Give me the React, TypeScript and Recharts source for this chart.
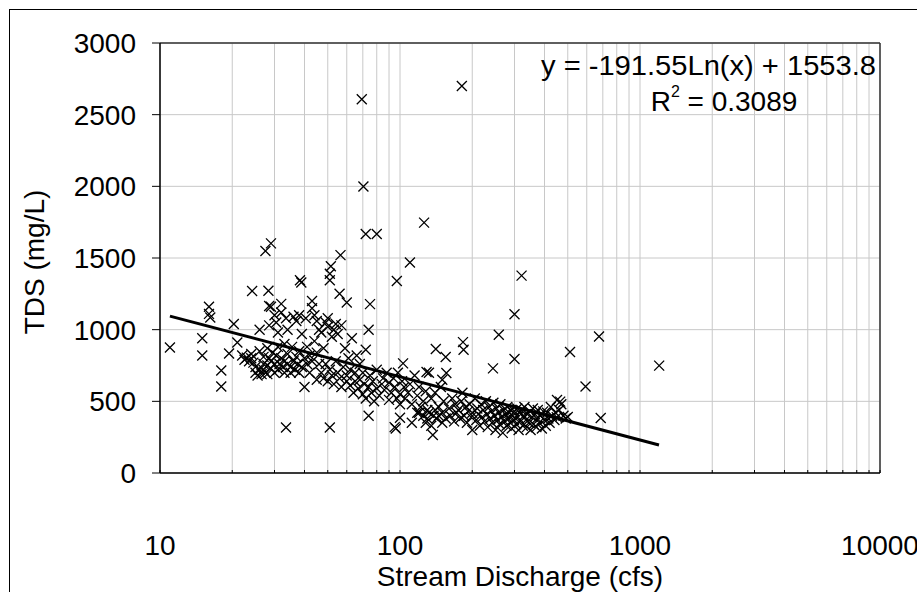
import React from 'react';
import {
  ScatterChart,
  Scatter,
  XAxis,
  YAxis,
  CartesianGrid,
  ReferenceLine,
} from 'recharts';

// Scattered samples, [discharge cfs, TDS mg/L]
const outliers: [number, number][] = [
  [11, 875], [15, 940], [15, 820], [16, 1160], [16, 1110], [16.2, 1085], [18, 715], [18, 604],
  [19.4, 834], [20.3, 1040], [21, 910], [24.2, 1270], [27.5, 1549], [29, 1602], [28.3, 1271],
  [28.5, 1165], [33.5, 318], [38.3, 1345], [38.8, 1329], [51, 318], [51.5, 1443], [51, 1390],
  [51, 1345], [56.5, 1520], [56, 1250], [60, 1190], [69.3, 2608], [70.4, 1999], [72, 1668],
  [80, 1668], [75, 1178], [74, 1000], [74, 400], [97, 1340], [110, 1469], [126, 1747],
  [181, 2700], [321, 1377], [300, 1107], [258, 965], [300, 795], [244, 730], [183, 913],
  [184, 860], [141, 865], [155, 809], [129, 705], [156, 698], [150, 650], [511, 844], [593, 604],
  [675, 952], [686, 384], [1202, 749], [465, 498], [451, 509], [500, 391], [96, 310], [100, 386],
  [103, 765], [137, 265], [95, 320],
];

const lowFlow: [number, number][] = [
  [22, 820], [22.5, 790], [23, 805], [23.5, 780], [24, 800], [24, 830], [24.5, 770], [25, 700],
  [25, 740], [25.5, 680], [26, 720], [26, 850], [26, 1000], [26.5, 690], [27, 760], [27, 810],
  [27, 720], [27.5, 700], [28, 870], [28, 750], [28, 690], [28.5, 1030], [28.5, 800], [29, 730],
  [29, 1160], [29, 780], [29.5, 840], [30, 1100], [30, 760], [30, 700], [30.5, 1050], [30.5, 820],
  [31, 720], [31, 980], [31, 880], [31.5, 760], [32, 1180], [32, 1120], [32, 800], [32.5, 740],
  [33, 700], [33, 900], [33, 780], [33.5, 1080], [34, 760], [34, 830], [34, 1000], [35, 740],
  [35, 700], [35.5, 880], [36, 1090], [36, 780], [36.5, 720], [37, 1060], [37, 810], [37.5, 760],
  [38, 1100], [38, 850], [38, 700], [39, 970], [39, 740], [40, 600], [40, 800], [40.5, 1080],
  [41, 760], [41, 880], [42, 820], [42, 700], [43, 1200], [43, 1150], [43, 780], [44, 1100],
  [44, 920], [45, 1060], [45, 840], [45, 650], [46, 1000], [46, 760], [47, 980], [47, 700],
  [48, 870], [48, 660], [49, 1050], [49, 760], [50, 1080], [50, 1020], [50, 640], [51, 720],
  [52, 950], [52, 680], [53, 1000], [53, 620], [54, 1040], [54, 780], [55, 970], [55, 700],
  [56, 660], [57, 1030], [57, 600], [58, 740], [59, 870],
];

const midFlow: [number, number][] = [
  [60, 680], [60, 640], [61, 800], [62, 720], [62, 610], [63, 940], [64, 560], [65, 700],
  [65, 640], [66, 820], [67, 590], [68, 760], [68, 650], [70, 700], [70, 550], [71, 620],
  [72, 860], [72, 520], [74, 600], [75, 680], [76, 560], [77, 640], [78, 500], [80, 590],
  [80, 720], [82, 540], [84, 620], [85, 660], [86, 580], [88, 700], [90, 630], [90, 510],
  [92, 560], [94, 660], [95, 600], [97, 520], [98, 700], [100, 550], [100, 480], [102, 640],
  [104, 600], [105, 520], [108, 560], [110, 620], [112, 480], [112, 350], [115, 680], [118, 540],
  [118, 420], [120, 600], [120, 420], [122, 460], [125, 500], [125, 400], [128, 570], [128, 350],
  [130, 440], [130, 380], [132, 700], [132, 420], [135, 520], [135, 330], [138, 400], [140, 560],
  [140, 440], [142, 380], [145, 460], [145, 400], [148, 600], [150, 420], [150, 350], [152, 500],
  [155, 380],
];

const highFlow: [number, number][] = [
  [160, 450], [162, 400], [165, 520], [168, 360], [170, 480], [172, 420], [175, 440], [178, 380],
  [180, 500], [182, 560], [185, 400], [188, 460], [190, 350], [192, 430], [195, 480], [198, 390],
  [200, 420], [200, 300], [205, 520], [208, 370], [210, 450], [212, 410], [215, 330], [218, 480],
  [220, 390], [222, 440], [225, 360], [228, 500], [230, 410], [232, 320], [235, 460], [238, 380],
  [240, 430], [242, 350], [245, 490], [248, 400], [250, 300], [252, 450], [255, 370], [258, 420],
  [260, 340], [262, 480], [265, 390], [268, 280], [270, 440], [272, 360], [275, 410], [278, 330],
  [280, 460], [282, 380], [285, 420], [288, 350], [290, 440], [292, 310], [295, 400], [298, 370],
  [300, 430], [305, 340], [308, 450], [310, 390], [312, 300], [315, 420], [318, 360], [320, 440],
  [325, 330], [328, 400], [330, 460], [335, 370], [338, 320], [340, 410], [345, 350], [348, 430],
  [350, 300], [355, 390], [358, 450], [360, 340], [365, 410], [370, 320], [372, 380], [375, 440],
  [380, 350], [385, 400], [390, 310], [395, 430], [400, 370], [405, 330], [410, 420], [415, 380],
  [420, 350], [425, 460], [430, 400], [440, 370], [445, 420], [450, 390], [460, 440], [470, 480],
  [480, 400], [490, 380],
];

// logarithmic fit shown on the chart
const trendSlope = -191.55;
const trendIntercept = 1553.8;
const trendX = [11, 1200];

const xTicks = [
  10, 20, 30, 40, 50, 60, 70, 80, 90,
  100, 200, 300, 400, 500, 600, 700, 800, 900,
  1000, 2000, 3000, 4000, 5000, 6000, 7000, 8000, 9000, 10000,
];
const xLabels = [10, 100, 1000, 10000];
const yTicks = [0, 500, 1000, 1500, 2000, 2500, 3000];

const FONT = '"Liberation Sans", Arial, sans-serif';
const FS = 28;

const samples = [...outliers, ...lowFlow, ...midFlow, ...highFlow].map(([q, tds]) => ({ q, tds }));
const trend = trendX.map((q) => ({ q, tds: trendSlope * Math.log(q) + trendIntercept }));

const Cross = (props: any) => {
  const { cx, cy } = props;
  if (cx == null || cy == null) return null;
  const s = 5;
  return (
    <path
      d={`M${cx - s},${cy - s}L${cx + s},${cy + s}M${cx + s},${cy - s}L${cx - s},${cy + s}`}
      stroke="#000"
      strokeWidth={1.3}
      fill="none"
    />
  );
};

const XTick = (props: any) => {
  const { x, y, payload } = props;
  const v = payload.value;
  const major = xLabels.includes(v);
  return (
    <g>
      <line x1={x} x2={x} y1={y} y2={y - 3} stroke="#000" />
      {major && (
        <text x={x} y={y + 72} textAnchor="middle" dominantBaseline="central" fontSize={FS} fontFamily={FONT} fill="#000">
          {v}
        </text>
      )}
    </g>
  );
};

export default function App() {
  return (
    <div style={{ position: 'absolute', left: 0, top: 0, width: 917, height: 592, overflow: 'hidden', background: '#fff' }}>
      <div style={{ position: 'absolute', left: 9, top: 9, width: 1200, height: 1200, borderLeft: '1px solid #000', borderTop: '1px solid #000' }} />
      <div style={{ position: 'absolute', left: 0, top: 0 }}>
        <ScatterChart width={917} height={592} margin={{ top: 43, right: 37, bottom: 0, left: 0 }}>
          <CartesianGrid stroke="#c8c8c8" />
          <XAxis
            dataKey="q"
            type="number"
            scale="log"
            domain={[10, 10000]}
            ticks={xTicks}
            interval={0}
            allowDataOverflow
            height={119}
            tickSize={0}
            tickMargin={0}
            tick={<XTick />}
            axisLine={{ stroke: '#000', strokeWidth: 1.5 }}
            label={() => (
              <text x={520} y={576} textAnchor="middle" dominantBaseline="central" fontSize={FS} fontFamily={FONT} fill="#000">
                Stream Discharge (cfs)
              </text>
            )}
          />
          <YAxis
            dataKey="tds"
            type="number"
            domain={[0, 3000]}
            ticks={yTicks}
            width={160}
            tickSize={8}
            tickMargin={16}
            tick={{ fontSize: FS, fontFamily: FONT, fill: '#000' }}
            tickLine={{ stroke: '#000' }}
            axisLine={{ stroke: '#000', strokeWidth: 1.5 }}
            label={() => (
              <text
                x={34}
                y={262}
                transform="rotate(-90 34 262)"
                textAnchor="middle"
                dominantBaseline="central"
                fontSize={FS}
                fontFamily={FONT}
                fill="#000"
              >
                TDS (mg/L)
              </text>
            )}
          />
          <ReferenceLine y={3000} stroke="#333" strokeWidth={1.5} />
          <ReferenceLine x={10000} stroke="#333" strokeWidth={1.5} />
          <Scatter data={samples} shape={<Cross />} isAnimationActive={false} />
          <Scatter
            data={trend}
            line={{ stroke: '#000', strokeWidth: 3 }}
            shape={() => <g />}
            isAnimationActive={false}
          />
          <text
            x={876}
            y={65}
            textAnchor="end"
            dominantBaseline="central"
            fontSize={FS}
            fontFamily={FONT}
            fill="#000"
            textLength={335}
            lengthAdjust="spacingAndGlyphs"
          >
            y = -191.55Ln(x) + 1553.8
          </text>
          <text x={724} y={101} textAnchor="middle" dominantBaseline="central" fontSize={FS} fontFamily={FONT} fill="#000">
            R<tspan fontSize={16} dy={-10}>2</tspan>
            <tspan dy={10}> = 0.3089</tspan>
          </text>
        </ScatterChart>
      </div>
    </div>
  );
}
